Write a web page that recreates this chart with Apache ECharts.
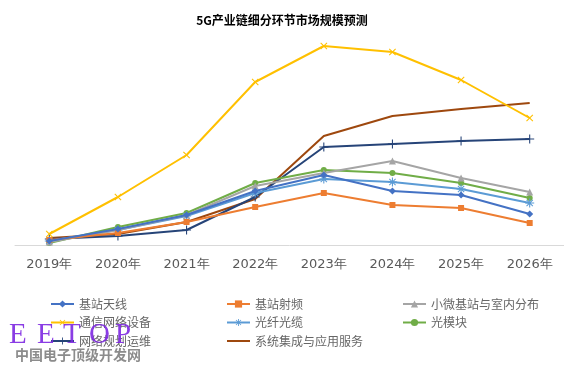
<!DOCTYPE html>
<html><head><meta charset="utf-8">
<script src="https://cdn.jsdelivr.net/npm/echarts@6/dist/echarts.min.js"></script>
<style>html,body{margin:0;padding:0;background:#fff}#c{width:564px;height:370px}</style>
</head><body><div id="c"></div>
<script>
const categories = ['2019年','2020年','2021年','2022年','2023年','2024年','2025年','2026年'];
const seriesNames = ['基站天线','基站射频','小微基站与室内分布','通信网络设备','光纤光缆','光模块','网络规划运维','系统集成与应用服务'];
const antenna   = [4, 16, 30, 54, 70, 54, 50, 31];
const radio     = [5, 12, 23, 38, 52, 40, 37, 22];
const smallCell = [3, 15, 30, 59, 72, 84, 67, 53];
const network   = [11, 48, 90, 163, 199, 193, 165, 127];
const fiber     = [4, 15, 29, 52, 66, 63, 56, 42];
const optical   = [2, 18, 32, 62, 75, 72, 62, 47];
const planning  = [6, 9, 15, 48, 98, 101, 104, 106];
const integration = [7, 11, 23, 46, 109, 129, 136, 142];
const watermarkLetters = ['E','E','T','O','P'];

const values = [antenna, radio, smallCell, network, fiber, optical, planning, integration];
const colors = ['#4472C4','#ED7D31','#A5A5A5','#FFC000','#5B9BD5','#70AD47','#264478','#9E480E'];
const plus = 'path://M-0.6,-5 L0.6,-5 L0.6,-0.6 L5,-0.6 L5,0.6 L0.6,0.6 L0.6,5 L-0.6,5 L-0.6,0.6 L-5,0.6 L-5,-0.6 L-0.6,-0.6 Z';
const star = 'path://M-0.6,-5 L0.6,-5 L0.6,5 L-0.6,5 Z M-5,-0.6 L5,-0.6 L5,0.6 L-5,0.6 Z M-3.9,-3.1 L-3.1,-3.9 L3.9,3.1 L3.1,3.9 Z M3.1,-3.9 L3.9,-3.1 L-3.1,3.9 L-3.9,3.1 Z';
const symbols = ['diamond','rect','triangle',plus,star,'circle',plus,'none'];
const sizes = [7,6,7,9,9,6,9,0];
const rotates = [0,0,0,45,0,0,0,0];

const series = seriesNames.map((n,i)=>({
  name:n, type:'line', data:values[i], symbol:symbols[i], symbolSize:sizes[i], symbolRotate:rotates[i],
  showSymbol: symbols[i] !== 'none',
  lineStyle:{width:2,color:colors[i]}, itemStyle:{color:colors[i]}, z: 10-i
}));

const lineIcon = 'path://M0,-1 L23,-1 L23,1 L0,1 Z';
const legendBase = {orient:'vertical', top:293, itemWidth:23, itemHeight:9, itemGap:6.5,
  textStyle:{color:'#666666', fontSize:12, fontFamily:'Noto Sans CJK SC'}};
const wmX = [9, 37, 63, 89, 115];
const chart = echarts.init(document.getElementById('c'));
chart.setOption({
  animation:false,
  color:colors,
  title:{text:'5G产业链细分环节市场规模预测', left:'center', top:9,
    textStyle:{fontSize:12, fontWeight:'bold', color:'#000', fontFamily:'Noto Sans CJK SC'}},
  grid:{left:15, right:-2, top:25, bottom:125, containLabel:false},
  xAxis:{type:'category', data:categories, boundaryGap:true,
    axisLine:{lineStyle:{color:'#d9d9d9'}}, axisTick:{show:false},
    axisLabel:{color:'#595959', fontSize:13, margin:13, fontFamily:'DejaVu Sans'}},
  yAxis:{type:'value', min:0, max:220, show:false, splitLine:{show:false}},
  legend:[
    Object.assign({left:45, data:[seriesNames[0],seriesNames[3],seriesNames[6]]}, legendBase),
    Object.assign({left:221, data:[seriesNames[1],seriesNames[4],{name:seriesNames[7], icon:lineIcon}]}, legendBase),
    Object.assign({left:397, data:[seriesNames[2],seriesNames[5]]}, legendBase)
  ],
  graphic: watermarkLetters.map((ch,i)=>({type:'text', left:wmX[i], top:321, z:100,
      style:{text:ch, fill:'rgba(125,40,225,0.9)', font:'29px "Liberation Serif"'}}))
    .concat([{type:'text', left:15, top:348, z:100, style:{text:'中国电子顶级开发网', fill:'#8c8c8c', font:'bold 14px "Noto Sans CJK SC"'}}]),
  series:series
});
</script></body></html>
